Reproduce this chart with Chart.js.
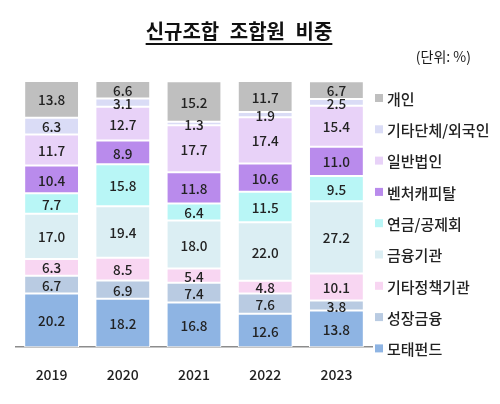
<!DOCTYPE html>
<html>
<head>
<meta charset="utf-8">
<script src="https://cdn.jsdelivr.net/npm/chart.js@4"></script>
<style>
  body { margin: 0; background: #fff; font-family: "Noto Sans CJK KR", "Noto Sans", sans-serif; }
  #wrap { position: relative; width: 500px; height: 404px; }
  #title {
    position: absolute; left: 0; top: 16px; width: 478px; text-align: center;
    font-size: 20px; font-weight: bold; color: #111; word-spacing: 6px;
  }
  #title span { text-decoration: underline; text-underline-offset: 4px; text-decoration-thickness: 2px; }
  #unit { position: absolute; right: 29px; top: 46px; font-size: 14px; color: #1a1a1a; }
  canvas { position: absolute; left: 0; top: 0; }
</style>
</head>
<body>
<div id="wrap">
  <canvas id="chart" width="500" height="404"></canvas>
  <div id="title"><span>신규조합 조합원 비중</span></div>
  <div id="unit">(단위: %)</div>
</div>
<script>
// Years on the x axis
const years = ['2019', '2020', '2021', '2022', '2023'];

// Series, bottom of the stack first
const seriesNames = ['모태펀드', '성장금융', '기타정책기관', '금융기관', '연금/공제회', '벤처캐피탈', '일반법인', '기타단체/외국인', '개인'];
const motae = [20.2, 18.2, 16.8, 12.6, 13.8];
const growth = [6.7, 6.9, 7.4, 7.6, 3.8];
const otherPolicy = [6.3, 8.5, 5.4, 4.8, 10.1];
const financial = [17.0, 19.4, 18.0, 22.0, 27.2];
const pension = [7.7, 15.8, 6.4, 11.5, 9.5];
const vc = [10.4, 8.9, 11.8, 10.6, 11.0];
const corporate = [11.7, 12.7, 17.7, 17.4, 15.4];
const otherForeign = [6.3, 3.1, 1.3, 1.9, 2.5];
const individual = [13.8, 6.6, 15.2, 11.7, 6.7];

const seriesValues = [motae, growth, otherPolicy, financial, pension, vc, corporate, otherForeign, individual];
const colors = ['#8eb4e3', '#b9cbe2', '#f8d6f2', '#dbeef3', '#b8f6f6', '#b98bec', '#e8d2f8', '#dadcf6', '#bfbfbf'];

const FONT = '"Noto Sans CJK KR", "Noto Sans", sans-serif';

// value labels in the middle of each segment
const segmentLabels = {
  id: 'segmentLabels',
  afterDatasetsDraw(chart) {
    const ctx = chart.ctx;
    ctx.save();
    ctx.font = '500 13.5px ' + FONT;
    ctx.fillStyle = '#222222';
    ctx.textAlign = 'center';
    ctx.textBaseline = 'middle';
    chart.data.datasets.forEach((ds, i) => {
      chart.getDatasetMeta(i).data.forEach((bar, j) => {
        ctx.fillText(ds.data[j].toFixed(1), bar.x, (bar.y + bar.base) / 2 + 1);
      });
    });
    ctx.restore();
  }
};

// legend on the right, top entry = top of the stack
const sideLegend = {
  id: 'sideLegend',
  afterDraw(chart) {
    const ctx = chart.ctx;
    ctx.save();
    ctx.font = '500 15px ' + FONT;
    ctx.textBaseline = 'middle';
    const n = chart.data.datasets.length;
    for (let k = 0; k < n; k++) {
      const ds = chart.data.datasets[n - 1 - k];
      const y = 98 + k * 31.3;
      ctx.fillStyle = ds.backgroundColor;
      ctx.fillRect(375, y - 4, 8, 8);
      ctx.fillStyle = '#222222';
      ctx.fillText(ds.label, 387, y + 1);
    }
    ctx.restore();
  }
};

new Chart(document.getElementById('chart'), {
  type: 'bar',
  data: {
    labels: years,
    datasets: seriesNames.map((name, i) => ({
      label: name,
      data: seriesValues[i],
      backgroundColor: colors[i],
      borderColor: '#ffffff',
      borderWidth: 1,
      borderSkipped: false,
      categoryPercentage: 1,
      barPercentage: 0.77
    }))
  },
  options: {
    responsive: false,
    animation: false,
    layout: { padding: { left: 16, right: 128, top: 81, bottom: 10 } },
    plugins: {
      legend: { display: false },
      tooltip: { enabled: false }
    },
    scales: {
      x: {
        stacked: true,
        grid: { display: false },
        border: { display: true, color: '#8c8c8c', width: 1.5 },
        ticks: { color: '#222222', font: { size: 14, family: FONT, weight: '500' }, padding: 11 }
      },
      y: {
        stacked: true,
        display: false,
        min: 0,
        max: 100.1
      }
    }
  },
  plugins: [segmentLabels, sideLegend]
});
</script>
</body>
</html>
